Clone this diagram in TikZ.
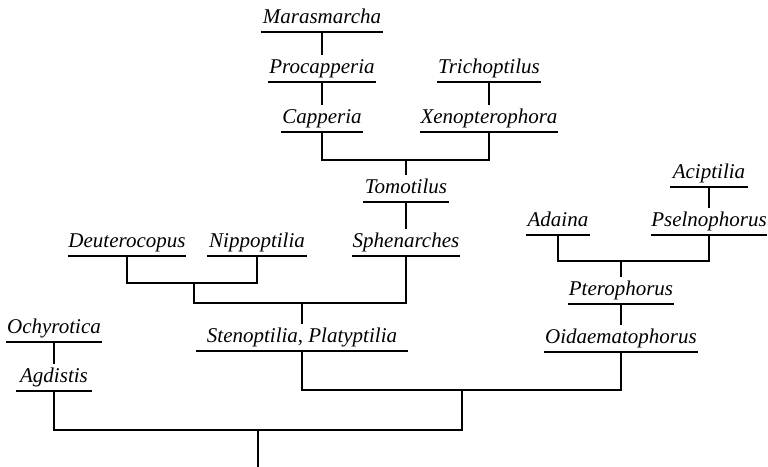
\documentclass[tikz,border=0pt]{standalone}
\usepackage{fontspec}
\setmainfont{Liberation Serif}
\tikzset{
  taxon/.style={font=\fontsize{10.5}{12}\selectfont\itshape, inner xsep=0pt, inner ysep=1.5pt,
    text height=7.5pt, text depth=2.5pt, anchor=south, minimum width=#1,
    append after command={(\tikzlastnode.south west) edge (\tikzlastnode.south east)}},
}
\begin{document}
\begin{tikzpicture}[x=0.5pt, y=-0.5pt, line width=0.7pt]
  \useasboundingbox (0,0) rectangle (768,467);

  % Capperia group
  \node[taxon=60.5pt] (mara) at (322,32) {Marasmarcha};
  \node[taxon=53pt] (proc) at (322,82) {Procapperia};
  \node[taxon=40pt] (capp) at (322,132) {Capperia};
  \draw (mara.south) -- (proc.north);
  \draw (proc.south) -- (capp.north);

  % Trichoptilus group
  \node[taxon=51.5pt] (tric) at (489,82) {Trichoptilus};
  \node[taxon=68.5pt] (xeno) at (489,132) {Xenopterophora};
  \draw (tric.south) -- (xeno.north);

  % Tomotilus, Sphenarches
  \coordinate (jcx) at (406,160);
  \node[taxon=42pt] (tomo) at (406,202) {Tomotilus};
  \node[taxon=53pt] (sphe) at (406,256) {Sphenarches};
  \draw (capp.south) |- (jcx) -| (xeno.south);
  \draw (jcx) -- (tomo.north);
  \draw (tomo.south) -- (sphe.north);

  % Deuterocopus, Nippoptilia
  \node[taxon=57.5pt] (deut) at (127,256) {Deuterocopus};
  \node[taxon=49.5pt] (nipp) at (257,256) {Nippoptilia};
  \coordinate (jdn) at (194,283);
  \coordinate (jds) at (302,303);
  \draw (deut.south) |- (jdn) -| (nipp.south);
  \draw (jdn) |- (jds) -| (sphe.south);

  % Stenoptilia
  \node[taxon=105pt] (sten) at (302,351) {Stenoptilia{\upshape,} Platyptilia};
  \draw (jds) -- (sten.north);

  % Pterophorus group
  \node[taxon=31.5pt] (adai) at (558,235) {Adaina};
  \node[taxon=38pt] (acip) at (709,187) {Aciptilia};
  \node[taxon=57.5pt] (psel) at (709,235) {Pselnophorus};
  \draw (acip.south) -- (psel.north);
  \coordinate (jap) at (621,261);
  \node[taxon=50.5pt] (pter) at (621,304) {Pterophorus};
  \node[taxon=76.5pt] (oida) at (621,352) {Oidaematophorus};
  \draw (adai.south) |- (jap) -| (psel.south);
  \draw (jap) -- (pter.north);
  \draw (pter.south) -- (oida.north);

  % Agdistis group
  \node[taxon=45pt] (ochy) at (54,342) {Ochyrotica};
  \node[taxon=37pt] (agdi) at (54,391) {Agdistis};
  \draw (ochy.south) -- (agdi.north);

  % base
  \coordinate (jso) at (462,390);
  \coordinate (jroot) at (258,430);
  \coordinate (root) at (258,467);
  \draw (sten.south) |- (jso) -| (oida.south);
  \draw (agdi.south) |- (jroot) -| (jso);
  \draw (jroot) -- (root);
\end{tikzpicture}
\end{document}
